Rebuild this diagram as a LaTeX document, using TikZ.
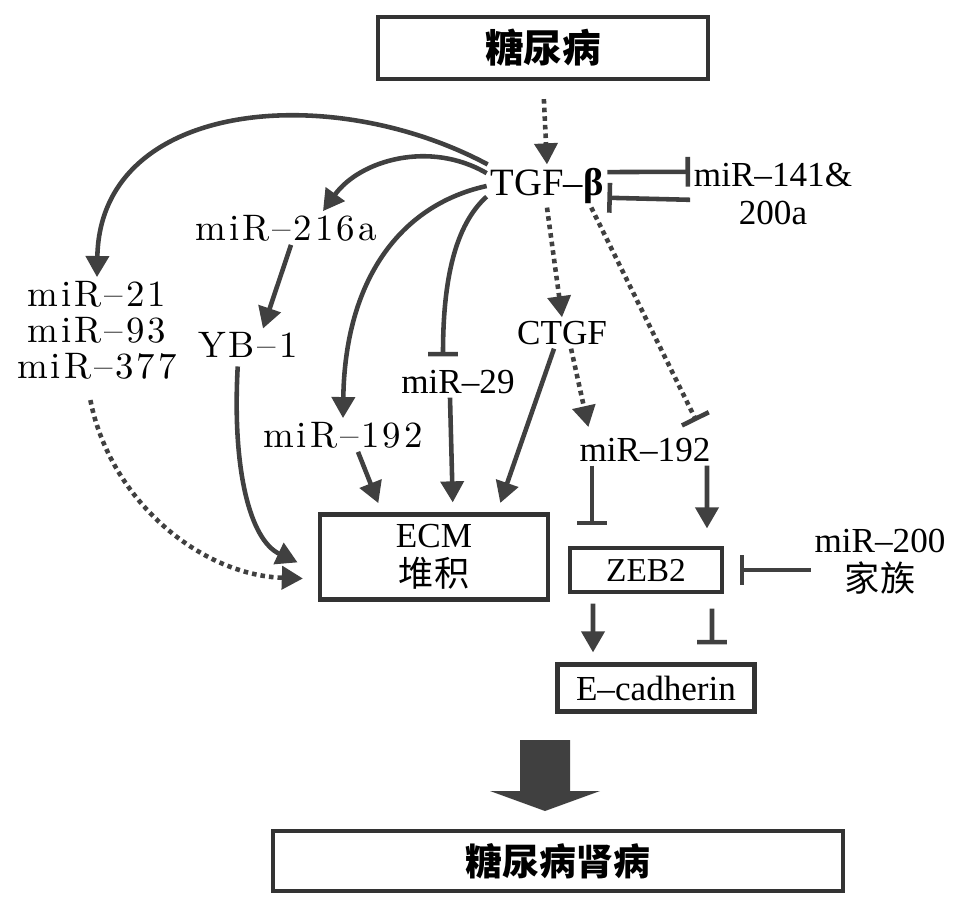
\documentclass[tikz,border=0pt]{standalone}
\usepackage{fontspec}
\setmainfont{Liberation Serif}
\newfontfamily\cjk{Noto Sans CJK SC}
\newfontfamily\wide{lmroman10-regular}[Extension=.otf, LetterSpace=8]
\usetikzlibrary{arrows.meta, positioning, calc}
\tikzset{box/.style = {
  draw=black!80, line width=2.4pt,
  inner sep=0pt, align=center,
  font=\fontsize{20}{22}\selectfont
  }}
\tikzset{lbl/.style = {inner sep=2pt, align=center, font=\fontsize{20}{22}\selectfont}}
\tikzset{wlbl/.style = {lbl, font=\wide\fontsize{21}{20.5}\selectfont}}
\tikzset{act/.style = {-{Triangle[length=12pt, width=13pt]}, line width=2.6pt, draw=black!75}}
\tikzset{inh/.style = {-{Bar[width=17pt]}, line width=2.6pt, draw=black!75}}
\tikzset{dots/.style = {dash pattern=on 2.6pt off 2.3pt}}

\begin{document}
\begin{tikzpicture}[x={(0.02cm,0cm)}, y={(0cm,-0.02cm)}]
\useasboundingbox (0,0) rectangle (957,921);

	% Boxes
    \node[box, minimum width=6.6cm, minimum height=1.24cm, font=\fontsize{22}{24}\selectfont] (dm) at (543,48) {\cjk\bfseries 糖尿病};
    \node[box, minimum width=4.56cm, minimum height=1.7cm] (ecm) at (434,557) {ECM\\{\cjk 堆积}};
    \node[box, line width=1.8pt, minimum width=3.04cm, minimum height=0.88cm, font=\fontsize{19}{20}\selectfont] (zeb) at (646,570) {ZEB2};
    \node[box, minimum width=3.94cm, minimum height=0.94cm] (ecad) at (656,688) {E–cadherin};
    \node[box, minimum width=11.4cm, minimum height=1.2cm, font=\fontsize{21}{24}\selectfont] (dn) at (558,861) {\cjk\bfseries 糖尿病肾病};

	% Labels
    \node[lbl, font=\fontsize{22}{24}\selectfont] (tgf) at (547,186) {TGF–\textbf{β}};
    \node[lbl] (mir141) at (773,194) {miR–141\&\\200a};
    \node[wlbl] (mir216) at (286,228) {miR–216a};
    \node[wlbl] (yb1) at (248,345) {YB–1};
    \node[wlbl] (mir21) at (97,330) {miR–21\\miR–93\\miR–377};
    \node[wlbl] (mir192a) at (343,435) {miR–192};
    \node[lbl] (mir29) at (458,382) {miR–29};
    \node[lbl] (ctgf) at (562,333) {CTGF};
    \node[lbl] (mir192b) at (645,450) {miR–192};
    \node[lbl] (mir200) at (880,562) {miR–200\\{\cjk 家族}};

	% From TGF-beta
    \draw[act, dots, shorten <=0.36cm] (dm.south) -- (tgf.north);
    \draw[act] (tgf.160) .. controls (330,80) and (100,100) .. (mir21.north);
    \draw[act] (tgf.168) .. controls (430,140) and (360,160) .. ([xshift=0.74cm]mir216.north);
    \draw[act] (tgf.west) .. controls (400,205) and (345,280) .. (mir192a.north);
    \draw[inh, shorten >=0.2cm] (tgf.190) .. controls (455,225) and (443,280) .. ([xshift=-0.3cm]mir29.north);
    \draw[act, dots] (tgf.south) -- (ctgf.north);
    \draw[inh, dots, shorten >=0.3cm] (tgf.-26) -- ([xshift=1.16cm]mir192b.north);
    \draw[inh] (tgf.13) -- (mir141.165);
    \draw[inh] (mir141.184) -- (tgf.-11);

	% Towards ECM
    \draw[act] ([xshift=0.1cm]mir216.south) -- ([xshift=0.3cm]yb1.north);
    \draw[act, shorten <=0.1cm, shorten >=0.45cm] ([xshift=-0.2cm]yb1.south) .. controls (232,470) and (250,540) .. ([yshift=-0.3cm]ecm.west);
    \draw[act, dots, shorten <=0.35cm, shorten >=0.3cm] ([xshift=-0.2cm]mir21.south) .. controls (110,500) and (200,575) .. ([yshift=-0.44cm]ecm.west);
    \draw[act, shorten >=0.2cm] ([xshift=0.3cm]mir192a.south) -- ([xshift=-1.04cm]ecm.north);
    \draw[act, shorten >=0.2cm] ([xshift=-0.16cm]mir29.south) -- ([xshift=0.38cm]ecm.north);
    \draw[act, shorten >=0.2cm] ([xshift=-0.16cm]ctgf.south) -- ([xshift=1.26cm]ecm.north);

	% ZEB2 and E-cadherin
    \draw[act, dots, shorten >=0.15cm] (ctgf.-60) -- ([xshift=-1.1cm]mir192b.north);
    \draw[inh, shorten >=0.42cm] ([xshift=-1.06cm]mir192b.south) -- ([xshift=-1.08cm]zeb.north);
    \draw[act, shorten >=0.36cm] ([xshift=1.24cm]mir192b.south) -- ([xshift=1.22cm]zeb.north);
    \draw[inh, shorten >=0.32cm] (mir200.west |- zeb.east) -- (zeb.east);
    \draw[act, shorten <=0.2cm, shorten >=0.2cm] ([xshift=-1.06cm]zeb.south) -- ([xshift=-1.26cm]ecad.north);
    \draw[inh, shorten <=0.3cm, shorten >=0.36cm] ([xshift=1.32cm]zeb.south) -- ([xshift=1.12cm]ecad.north);

	% Big arrow
    \fill[black!75] (520,740) -- (570,740) -- (570,791) -- (600,791) -- (545,811) -- (490,791) -- (520,791) -- cycle;

\end{tikzpicture}
\end{document}
